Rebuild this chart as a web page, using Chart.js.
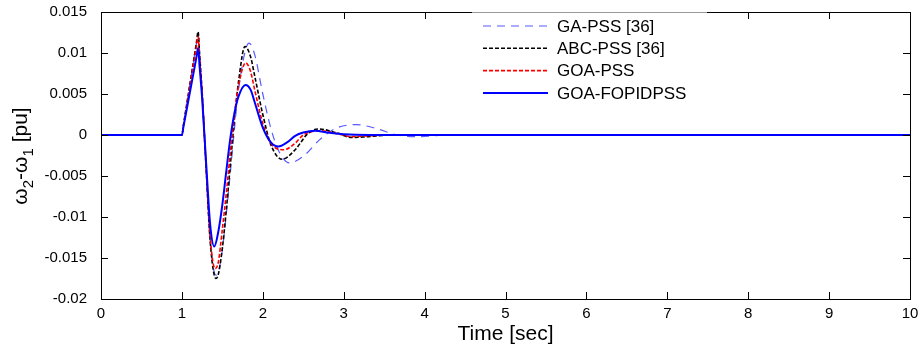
<!DOCTYPE html>
<html>
<head>
<meta charset="utf-8">
<script src="https://cdn.jsdelivr.net/npm/chart.js@4.4.1/dist/chart.umd.min.js"></script>
<style>
  body { margin: 0; background: #fff; }
  #wrap { width: 923px; height: 351px; }
</style>
</head>
<body>
<div id="wrap"><canvas id="chart-dw" width="923" height="351"></canvas></div>
<script>
// data (time in sec, speed deviation in pu)
var t_ga   = [0, 1.0, 1.02, 1.18, 1.2, 1.22, 1.25, 1.3, 1.35, 1.42, 1.45, 1.5, 1.55, 1.6, 1.65, 1.7, 1.83, 1.9, 2.0, 2.1, 2.2, 2.33, 2.5, 2.7, 2.9, 3.15, 3.4, 3.66, 3.9, 4.3, 10];
var w_ga   = [0, 0, 0.00124, 0.0112, 0.0124, 0.0095, 0.0052, -0.0041, -0.0128, -0.0171, -0.0167, -0.0140, -0.0095, -0.0045, 0.0008, 0.0055, 0.0112, 0.0098, 0.0050, 0.0008, -0.0020, -0.0034, -0.0026, -0.0006, 0.0008, 0.00127, 0.0008, 0, -0.0002, 0, 0];

var t_abc  = [0, 1.0, 1.02, 1.18, 1.2, 1.22, 1.25, 1.3, 1.35, 1.42, 1.45, 1.5, 1.55, 1.6, 1.65, 1.7, 1.78, 1.85, 1.9, 2.0, 2.1, 2.24, 2.4, 2.55, 2.69, 2.9, 3.1, 3.3, 3.6, 10];
var w_abc  = [0, 0, 0.00126, 0.0113, 0.0126, 0.0097, 0.0053, -0.0042, -0.0130, -0.0175, -0.0170, -0.0138, -0.0090, -0.0035, 0.0020, 0.0065, 0.0108, 0.0095, 0.0072, 0.0025, -0.0012, -0.00295, -0.0018, 0.0001, 0.00074, 0.0003, -0.0003, -0.0002, 0, 0];

var t_goa  = [0, 1.0, 1.02, 1.18, 1.2, 1.22, 1.25, 1.3, 1.35, 1.41, 1.45, 1.5, 1.55, 1.6, 1.65, 1.7, 1.79, 1.85, 1.9, 2.0, 2.1, 2.26, 2.4, 2.5, 2.72, 2.9, 3.1, 3.3, 3.6, 10];
var w_goa  = [0, 0, 0.0012, 0.0108, 0.0120, 0.0092, 0.0050, -0.0040, -0.0125, -0.0163, -0.0155, -0.0115, -0.0070, -0.0020, 0.0025, 0.0060, 0.0088, 0.0077, 0.0055, 0.0014, -0.0010, -0.0018, -0.0010, 0.0000, 0.0005, 0.0002, -0.0002, -0.0001, 0, 0];

var t_fopid = [0, 1.0, 1.02, 1.18, 1.2, 1.22, 1.25, 1.3, 1.35, 1.4, 1.45, 1.5, 1.55, 1.6, 1.65, 1.7, 1.786, 1.85, 1.9, 2.0, 2.1, 2.19, 2.3, 2.4, 2.5, 2.65, 2.8, 3.0, 3.3, 10];
var w_fopid = [0, 0, 0.00106, 0.0095, 0.0106, 0.0082, 0.0045, -0.0035, -0.0110, -0.0136, -0.0118, -0.0085, -0.0043, -0.0003, 0.0027, 0.0047, 0.0061, 0.0055, 0.0040, 0.0009, -0.0009, -0.0014, -0.0009, -0.0001, 0.0003, 0.00053, 0.0003, 0.0001, 0, 0];

var series_names = ['GA-PSS [36]', 'ABC-PSS [36]', 'GOA-PSS', 'GOA-FOPIDPSS'];
var x_ticks = [0, 1, 2, 3, 4, 5, 6, 7, 8, 9, 10];
var y_ticks = [-0.02, -0.015, -0.01, -0.005, 0, 0.005, 0.01, 0.015];
var y_tick_labels = ['-0.02', '-0.015', '-0.01', '-0.005', '0', '0.005', '0.01', '0.015'];

const to_points = (t, w) => t.map((v, i) => ({ x: v, y: w[i] }));

const FONT = "'Liberation Sans', Arial, Helvetica, sans-serif";

// MATLAB style box with inward ticks
const box_plugin = {
    id: 'box_plugin',
    afterDraw: (chart) => {
        let ctx = chart.ctx;
        let a = chart.chartArea;
        let sx = chart.scales.x, sy = chart.scales.y;
        ctx.save();
        ctx.strokeStyle = '#000';
        ctx.lineWidth = 1;
        ctx.strokeRect(a.left + 0.5, a.top + 0.5, a.right - a.left, a.bottom - a.top);
        ctx.beginPath();
        for (const v of x_ticks) {
            let px = Math.round(sx.getPixelForValue(v)) + 0.5;
            ctx.moveTo(px, a.bottom); ctx.lineTo(px, a.bottom - 7);
            ctx.moveTo(px, a.top); ctx.lineTo(px, a.top + 7);
        }
        for (const v of y_ticks) {
            let py = Math.round(sy.getPixelForValue(v)) + 0.5;
            ctx.moveTo(a.left, py); ctx.lineTo(a.left + 7, py);
            ctx.moveTo(a.right, py); ctx.lineTo(a.right - 7, py);
        }
        ctx.stroke();

        // legend (white box over the top right of the axes)
        let lx = 472, ly = a.top + 1;
        ctx.fillStyle = '#fff';
        ctx.fillRect(lx, ly, 235, 94);
        ctx.strokeStyle = '#999';
        ctx.beginPath();
        ctx.moveTo(lx, a.top + 0.5); ctx.lineTo(lx + 235, a.top + 0.5);
        ctx.stroke();
        ctx.font = '17px ' + FONT;
        ctx.textBaseline = 'middle';
        ctx.textAlign = 'left';
        for (let i = 0; i < series_names.length; i++) {
            let ds = chart.data.datasets[i];
            let y = 26 + i * 22.3;
            ctx.strokeStyle = ds.borderColor;
            ctx.lineWidth = ds.borderWidth;
            ctx.setLineDash(ds.borderDash || []);
            ctx.beginPath();
            ctx.moveTo(483, y); ctx.lineTo(548, y);
            ctx.stroke();
            ctx.setLineDash([]);
            ctx.fillStyle = '#000';
            ctx.fillText(series_names[i], 557, y + 1);
        }

        // axis titles
        ctx.fillStyle = '#000';
        ctx.font = '21px ' + FONT;
        ctx.textAlign = 'center';
        ctx.textBaseline = 'alphabetic';
        ctx.fillText('Time [sec]', (a.left + a.right) / 2, 340);

        // y title with subscripts
        ctx.translate(27, 156);
        ctx.rotate(-Math.PI / 2);
        let parts = [['ω', 0], ['2', 1], ['-ω', 0], ['1', 1], [' [pu]', 0]];
        let total = 0;
        for (const p of parts) {
            ctx.font = (p[1] ? '15px ' : '21px ') + FONT;
            total += ctx.measureText(p[0]).width;
        }
        let cx = -total / 2;
        ctx.textAlign = 'left';
        for (const p of parts) {
            ctx.font = (p[1] ? '15px ' : '21px ') + FONT;
            ctx.fillText(p[0], cx, p[1] ? 6 : 0);
            cx += ctx.measureText(p[0]).width;
        }
        ctx.restore();
    }
};

const make_chart = () => {
    return new Chart(document.getElementById('chart-dw'), {
        type: 'line',
        data: {
            datasets: [{
                label: series_names[0],
                data: to_points(t_ga, w_ga),
                borderColor: '#5a5aff',
                borderWidth: 1.2,
                borderDash: [8, 6],
                order: 4
            }, {
                label: series_names[1],
                data: to_points(t_abc, w_abc),
                borderColor: '#000000',
                borderWidth: 1.6,
                borderDash: [4, 2],
                order: 3
            }, {
                label: series_names[2],
                data: to_points(t_goa, w_goa),
                borderColor: '#ff0000',
                borderWidth: 1.6,
                borderDash: [4, 2],
                order: 2
            }, {
                label: series_names[3],
                data: to_points(t_fopid, w_fopid),
                borderColor: '#0000ff',
                borderWidth: 2,
                order: 1
            }]
        },
        options: {
            responsive: false,
            animation: false,
            datasets: {
                line: {
                    pointRadius: 0,
                    fill: false,
                    cubicInterpolationMode: 'monotone'
                }
            },
            layout: { padding: { left: 0, top: 12, right: 13, bottom: 0 } },
            plugins: {
                legend: { display: false },
                tooltip: { enabled: false }
            },
            scales: {
                x: {
                    type: 'linear',
                    min: 0,
                    max: 10,
                    afterBuildTicks: (s) => { s.ticks = x_ticks.map(v => ({ value: v })); },
                    afterFit: (s) => { s.height = 52; s.paddingLeft = 0; s.paddingRight = 0; },
                    grid: { display: false, drawTicks: false },
                    border: { display: false },
                    ticks: {
                        color: '#000',
                        padding: 6,
                        maxRotation: 0,
                        font: { family: FONT, size: 15 },
                        callback: (v) => String(v)
                    }
                },
                y: {
                    type: 'linear',
                    min: -0.02,
                    max: 0.015,
                    afterBuildTicks: (s) => { s.ticks = y_ticks.map(v => ({ value: v })); },
                    afterFit: (s) => { s.width = 101; s.paddingTop = 0; s.paddingBottom = 0; },
                    grid: { display: false, drawTicks: false },
                    border: { display: false },
                    ticks: {
                        color: '#000',
                        padding: 14,
                        font: { family: FONT, size: 15 },
                        callback: (v, i) => y_tick_labels[i]
                    }
                }
            }
        },
        plugins: [box_plugin]
    });
};

make_chart();
</script>
</body>
</html>
